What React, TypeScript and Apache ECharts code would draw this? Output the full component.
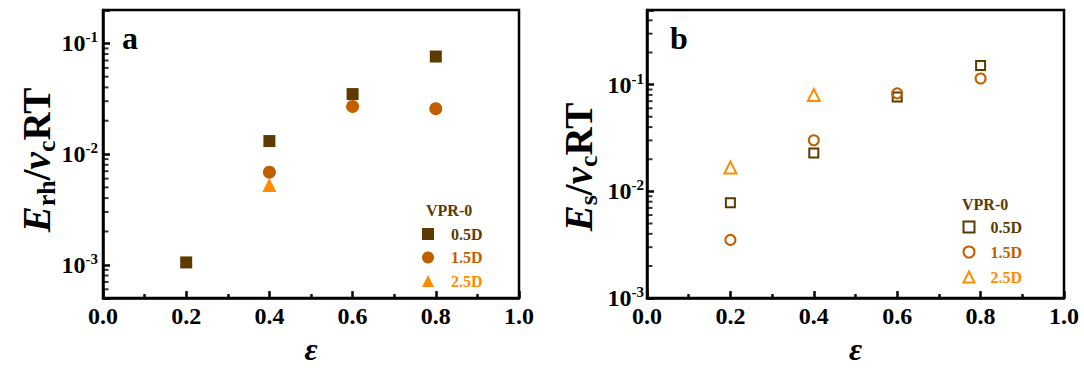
import React, { useEffect, useRef } from 'react';
import * as echarts from 'echarts';

const SERIF = '"Liberation Serif", "Times New Roman", serif';
const C_HALF = '#5e3a00';
const C_ONE = '#c05f00';
const C_TWO = '#ff8c00';

const xValues = [0.2, 0.4, 0.6, 0.8];
const seriesNames = ['0.5D', '1.5D', '2.5D'];
const xTickLabels = ['0.0', '0.2', '0.4', '0.6', '0.8', '1.0'];

// panel a (filled markers)
const rhHalf = [0.00105, 0.0131, 0.0348, 0.076];
const rhOne = [null, 0.00686, 0.0269, 0.0257];
const rhTwo = [null, 0.00526, null, null];

// panel b (hollow markers)
const sHalf = [0.00781, 0.0229, 0.0765, 0.151];
const sOne = [0.00351, 0.0301, 0.0828, 0.114];
const sTwo = [0.0167, 0.0798, null, null];

const minorMultipliers = [2, 3, 4, 5, 6, 7, 8, 9];
const decades = [-4, -3, -2, -1];

const pairs = (vals: (number | null)[]) =>
  xValues.map((x, i) => (vals[i] == null ? null : [x, vals[i]])).filter((p) => p !== null);

const minorTicks = (min: number, max: number) => {
  const out: number[][] = [];
  decades.forEach((d) =>
    minorMultipliers.forEach((m) => {
      const v = m * Math.pow(10, d);
      if (v > min * 1.0001 && v < max * 0.9999) out.push([0, v]);
    })
  );
  return out;
};

const yLabelFormatter = (v: number) => {
  const l = Math.log10(v);
  const e = Math.round(l);
  if (Math.abs(l - e) > 1e-6) return '';
  return `{b|10}{s|${e}}`;
};

const yLabelRich = {
  b: { fontSize: 24, fontWeight: 'bold', fontFamily: SERIF, color: '#000' },
  s: { fontSize: 15, fontWeight: 'bold', fontFamily: SERIF, color: '#000', padding: [0, 0, 12, 0] },
};

const nameRich = {
  i: { fontSize: 39, fontWeight: 'bold', fontStyle: 'italic', fontFamily: SERIF, fill: '#000', color: '#000' },
  n: { fontSize: 39, fontWeight: 'bold', fontFamily: SERIF, fill: '#000', color: '#000' },
  s: { fontSize: 26, fontWeight: 'bold', fontFamily: SERIF, fill: '#000', color: '#000', padding: [20, 0, 0, 0] },
};

export default function App() {
  const ref = useRef<HTMLDivElement>(null);
  useEffect(() => {
    document.body.style.margin = '0';
    const chart = echarts.init(ref.current!, null, { renderer: 'svg' });
    const xAxisCommon = (gi: number) => ({
      type: 'value',
      gridIndex: gi,
      min: 0,
      max: 1,
      interval: 0.2,
      name: 'ε',
      nameLocation: 'middle',
      nameGap: 32,
      nameTextStyle: { fontSize: 32, fontWeight: 'bold', fontStyle: 'italic', fontFamily: SERIF, color: '#000' },
      axisLine: { show: true, lineStyle: { color: '#000', width: 2.5 } },
      axisTick: { show: true, inside: true, length: 7, lineStyle: { color: '#000', width: 2.5 } },
      minorTick: { show: true, splitNumber: 2, length: 4, lineStyle: { color: '#000', width: 2.5 } },
      splitLine: { show: false },
      axisLabel: {
        margin: 6,
        fontSize: 24,
        fontWeight: 'bold',
        fontFamily: SERIF,
        color: '#000',
        formatter: (v: number) => xTickLabels[Math.round(v / 0.2)] ?? '',
      },
    });
    const yAxisCommon = (gi: number, min: number, max: number, margin: number) => ({
      type: 'log',
      logBase: 10,
      gridIndex: gi,
      min,
      max,
      axisLine: { show: true, lineStyle: { color: '#000', width: 2.5 } },
      axisTick: { show: true, inside: true, length: 7, lineStyle: { color: '#000', width: 2.5 } },
      minorTick: { show: false },
      splitLine: { show: false },
      axisLabel: { margin, formatter: yLabelFormatter, rich: yLabelRich, showMinLabel: true, showMaxLabel: true },
    });
    const minorSeries = (gi: number, min: number, max: number) => ({
      type: 'scatter',
      name: 'minor' + gi,
      xAxisIndex: gi,
      yAxisIndex: gi,
      silent: true,
      clip: false,
      symbol: 'rect',
      symbolSize: [6, 2],
      symbolOffset: [2.5, 0],
      itemStyle: { color: '#000' },
      z: 5,
      data: minorTicks(min, max),
    });
    const filled = (name: string, data: any[], symbol: string, size: number, color: string) => ({
      type: 'scatter',
      name,
      xAxisIndex: 0,
      yAxisIndex: 0,
      symbol,
      symbolSize: size,
      itemStyle: { color, opacity: 1 },
      data,
    });
    const hollow = (name: string, data: any[], symbol: string, size: number, color: string) => ({
      type: 'scatter',
      name,
      xAxisIndex: 1,
      yAxisIndex: 1,
      symbol,
      symbolSize: size,
      itemStyle: { color: 'rgba(255,255,255,0)', borderColor: color, borderWidth: 2, opacity: 1 },
      data,
    });
    const legendText = { fontFamily: SERIF, fontWeight: 'bold', fontSize: 16 };
    chart.setOption({
      animation: false,
      backgroundColor: '#fff',
      grid: [
        { left: 103, top: 10, width: 416, height: 295, show: true, borderColor: '#000', borderWidth: 2.5, backgroundColor: 'transparent' },
        { left: 647, top: 10, width: 417, height: 295, show: true, borderColor: '#000', borderWidth: 2.5, backgroundColor: 'transparent' },
      ],
      xAxis: [xAxisCommon(0), xAxisCommon(1)],
      yAxis: [yAxisCommon(0, 0.0005, 0.2, 5), yAxisCommon(1, 0.001, 0.5, 3)],
      legend: [
        {
          left: 422,
          top: 226,
          orient: 'vertical',
          padding: 0,
          itemWidth: 12,
          itemHeight: 12,
          itemGap: 7.5,
          selectedMode: false,
          textStyle: { ...legendText, padding: [0, 0, 0, 12] },
          data: [
            { name: seriesNames[0], textStyle: { color: C_HALF } },
            { name: seriesNames[1], textStyle: { color: C_ONE } },
            { name: seriesNames[2], textStyle: { color: C_TWO } },
          ],
        },
        {
          left: 962.5,
          top: 219,
          orient: 'vertical',
          padding: 0,
          itemWidth: 11,
          itemHeight: 11,
          itemGap: 9,
          selectedMode: false,
          textStyle: { ...legendText, padding: [0, 0, 0, 11] },
          formatter: (n: string) => n.trim(),
          data: [
            { name: seriesNames[0] + ' ', textStyle: { color: C_HALF } },
            { name: seriesNames[1] + ' ', textStyle: { color: C_ONE } },
            { name: seriesNames[2] + ' ', textStyle: { color: C_TWO } },
          ],
        },
      ],
      graphic: [
        { type: 'text', left: 122, top: 22, style: { text: 'a', font: `bold 32px ${SERIF}`, fill: '#000' } },
        { type: 'text', left: 670, top: 22, style: { text: 'b', font: `bold 32px ${SERIF}`, fill: '#000' } },
        { type: 'text', left: 426, top: 202, style: { text: 'VPR-0', font: `bold 16px ${SERIF}`, fill: C_HALF } },
        { type: 'text', left: 962, top: 196, style: { text: 'VPR-0', font: `bold 16px ${SERIF}`, fill: C_HALF } },
        {
          type: 'text',
          x: 36,
          y: 160,
          rotation: Math.PI / 2,
          style: { text: '{i|E}{s|rh}{n|/}{i|v}{s|c}{n|RT}', rich: nameRich, align: 'center', verticalAlign: 'middle' },
        },
        {
          type: 'text',
          x: 578,
          y: 167,
          rotation: Math.PI / 2,
          style: { text: '{i|E}{s|s}{n|/}{i|v}{s|c}{n|RT}', rich: nameRich, align: 'center', verticalAlign: 'middle' },
        },
      ],
      series: [
        minorSeries(0, 0.0005, 0.2),
        minorSeries(1, 0.001, 0.5),
        filled(seriesNames[0], pairs(rhHalf), 'rect', 12, C_HALF),
        filled(seriesNames[1], pairs(rhOne), 'circle', 13, C_ONE),
        filled(seriesNames[2], pairs(rhTwo), 'triangle', 14, C_TWO),
        hollow(seriesNames[0] + ' ', pairs(sHalf), 'rect', 9, C_HALF),
        hollow(seriesNames[1] + ' ', pairs(sOne), 'circle', 10, C_ONE),
        hollow(seriesNames[2] + ' ', pairs(sTwo), 'triangle', 12, C_TWO),
      ],
    });
    return () => chart.dispose();
  }, []);
  return <div ref={ref} style={{ width: 1084, height: 370 }} />;
}
